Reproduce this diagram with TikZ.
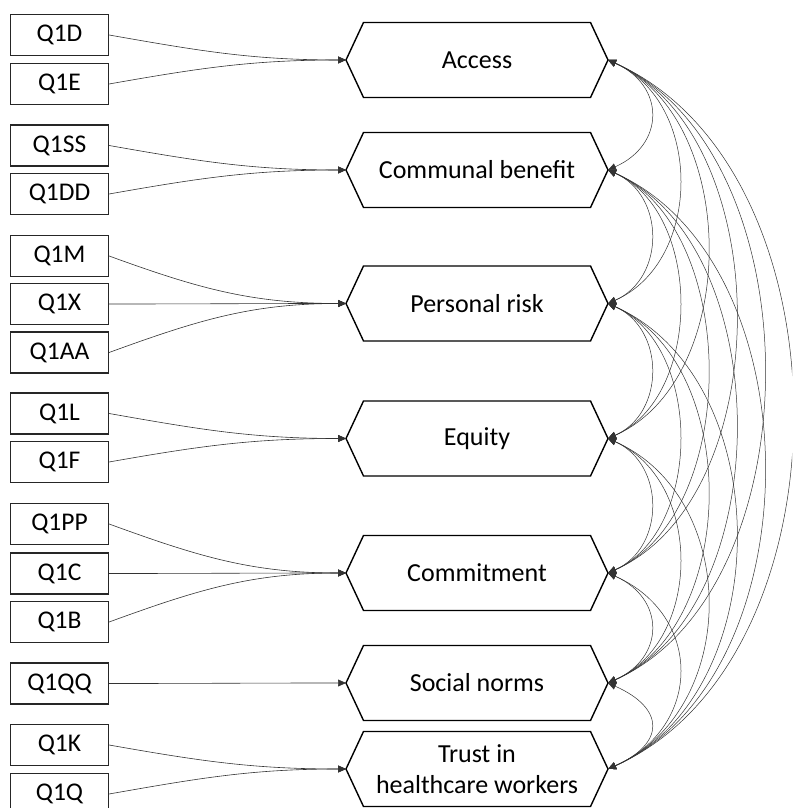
\documentclass[tikz,border=0pt]{standalone}
\usepackage{fontspec}
\setmainfont{Carlito}
\usetikzlibrary{arrows.meta}
\begin{document}
\begin{tikzpicture}[x=1pt,y=1pt,
  obs/.style={draw=black!85,line width=1.2pt,minimum width=98pt,minimum height=41pt,inner sep=0pt,font=\fontsize{25.5}{30}\selectfont},
  fac/.style={inner sep=0pt,align=center,font=\fontsize{26}{31}\selectfont},
  hexl/.style={draw=black,line width=1.4pt,line join=miter},
  load/.style={draw=black!80,line width=0.6pt,-{Triangle[length=8pt,width=7pt]}},
  cov/.style={draw=black!80,line width=0.5pt,{Triangle[length=8pt,width=7pt]}-{Triangle[length=8pt,width=7pt]}}]
\useasboundingbox (0,0) rectangle (792,808);
\clip (0,0) rectangle (792,808);
% factors
\foreach \n/\y/\t in {1/748/Access,2/638/Communal benefit,3/504.5/Personal risk,4/369.5/Equity,5/235/Commitment,6/125/Social norms,7/39/{Trust in\\healthcare workers}}{
  \node[fac] (F\n) at (477,\y) {\t};
  \draw[hexl] (F\n.center) ++(-131,0) -- ++(17.5,37.5) -- ++(227,0) -- ++(17.5,-37.5) -- ++(-17.5,-37.5) -- ++(-227,0) -- cycle;
  \coordinate (L\n) at ([xshift=-131]F\n.center);
  \coordinate (R\n) at ([xshift=131]F\n.center);
}
% observed
\foreach \n/\y/\f/\o in {Q1D/773/1/-10,Q1E/724/1/10,Q1SS/662.5/2/-10,Q1DD/614/2/10,Q1M/552/3/-20,Q1X/504/3/0,Q1AA/455.5/3/20,Q1L/394.5/4/-10,Q1F/346/4/10,Q1PP/284/5/-20,Q1C/234.5/5/0,Q1B/186/5/20,Q1QQ/124.5/6/0,Q1K/63/7/-10,Q1Q/14/7/10}{
  \node[obs] (\n) at (59.5,\y) {\n};
  \draw[load] (\n.east) to[out=\o,in=180] (L\f);
}
% covariances
\foreach \i in {1,...,6}{
  \pgfmathtruncatemacro\ii{\i+1}
  \foreach \j in {\ii,...,7}{
    \pgfmathsetmacro\sep{\j-\i}
    \pgfmathsetmacro\bul{43+(\sep-1)*28.2}
    \pgfmathsetmacro\al{24}
    \pgfmathsetmacro\dx{\bul/0.75}
    \pgfmathsetmacro\dy{\dx*tan(\al)}
    \draw[cov] (R\i) .. controls +(\dx,-\dy) and +(\dx,\dy) .. (R\j);
  }
}
\end{tikzpicture}
\end{document}
